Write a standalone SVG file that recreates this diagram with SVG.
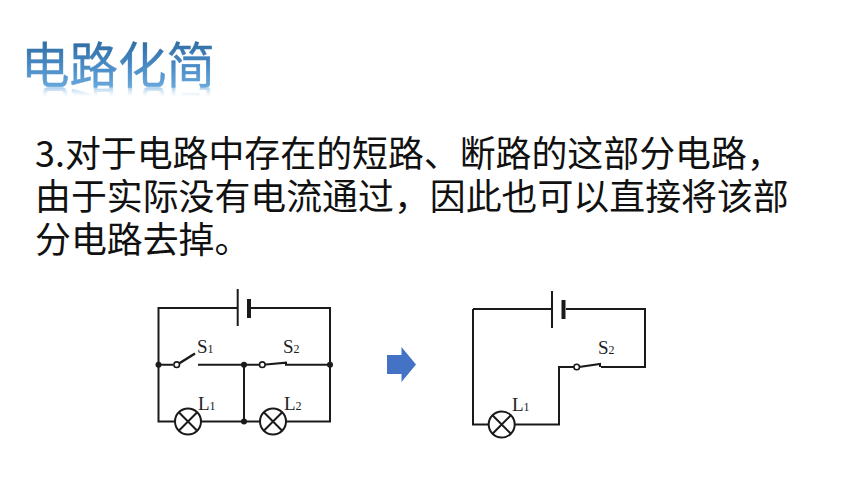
<svg xmlns="http://www.w3.org/2000/svg" width="860" height="484" viewBox="0 0 860 484">
<defs>
<linearGradient id="tg" gradientUnits="userSpaceOnUse" x1="0" y1="41" x2="0" y2="88"><stop offset="0" stop-color="#2f6ca3"/><stop offset="0.55" stop-color="#4a8cc6"/><stop offset="1" stop-color="#6aa9dc"/></linearGradient>
<linearGradient id="rg" gradientUnits="userSpaceOnUse" x1="0" y1="87" x2="0" y2="77"><stop offset="0" stop-color="#8dbde6" stop-opacity="0.8"/><stop offset="1" stop-color="#cfe3f5" stop-opacity="0"/></linearGradient>
</defs>
<style>
.t{font-family:"Noto Sans CJK SC","Noto Sans",sans-serif;font-size:35.9px;fill:#111}
.h{font-family:"Noto Sans CJK SC","Noto Sans",sans-serif;font-size:48.5px;stroke-width:0.4}
.w{fill:none;stroke:#1a1a1a;stroke-width:2}
.b{fill:none;stroke:#1a1a1a;stroke-width:4}
.d{fill:#1a1a1a}
.o{fill:#fff;stroke:#1a1a1a;stroke-width:1.6}
.l{fill:#fff;stroke:#1a1a1a;stroke-width:2}
.s{font-family:"Liberation Serif",serif;font-size:19px;fill:#222}
.u{font-size:12px}
</style>
<rect width="860" height="484" fill="#fff"/>
<g id="title">
<text class="h" x="21" y="83" transform="translate(0,174) scale(1,-1)" fill="url(#rg)">电路化简</text>
<text class="h" x="21" y="83" fill="url(#tg)" stroke="url(#tg)">电路化简</text>
</g>
<g id="body">
<text class="t" x="35" y="167">3.对于电路中存在的短路、断路的这部分电路&#xFF0C;</text>
<text class="t" x="35" y="210">由于实际没有电流通过&#xFF0C;因此也可以直接将该部</text>
<text class="t" x="35" y="253">分电路去掉。</text>
</g>
<g id="connectors">
<path class="w" d="M237.700 308H158.500V421.500H175M201 421.500H260M286 421.500H330V308H250"/>
<path class="w" d="M158.500 364.700H173M198 364.700H259M263 364.700L286 362.700V364.700H330M244 364.700V421.500"/>
<path class="w" d="M179 363.500L195 353.500" style="stroke-width:2.500"/>
<path class="w" d="M473 309H552M566 309H645V367H601M579 367L600 364V367M575 367H559V424.500H515M489 424.500H473V309"/>
</g>
<g id="battery-1"><path class="w" d="M237.700 289V326"/><path class="b" d="M249 299V318"/></g>
<g id="battery-2"><path class="w" d="M552 291V328"/><path class="b" d="M563.500 300V319"/></g>
<g id="junctions"><circle class="d" cx="158.500" cy="364.700" r="3"/><circle class="d" cx="244" cy="364.700" r="3"/><circle class="d" cx="330" cy="364.700" r="3"/><circle class="d" cx="244" cy="421.500" r="3"/></g>
<g id="s1"><circle class="o" cx="176.700" cy="364.700" r="2.800"/><text class="s" x="197" y="353">S<tspan class="u">1</tspan></text></g>
<g id="s2"><circle class="o" cx="262.300" cy="364.700" r="2.800"/><text class="s" x="283" y="353">S<tspan class="u">2</tspan></text></g>
<g id="l1"><circle class="l" cx="188" cy="421.500" r="13"/><path class="w" d="M178.800 412.300L197.200 430.700M197.200 412.300L178.800 430.700"/><text class="s" x="198" y="410">L<tspan class="u">1</tspan></text></g>
<g id="l2"><circle class="l" cx="273" cy="421.500" r="13"/><path class="w" d="M263.800 412.300L282.200 430.700M282.200 412.300L263.800 430.700"/><text class="s" x="284" y="410">L<tspan class="u">2</tspan></text></g>
<g id="s2b"><circle class="o" cx="576.700" cy="367" r="2.800"/><text class="s" x="598" y="354">S<tspan class="u">2</tspan></text></g>
<g id="l1b"><circle class="l" cx="501.700" cy="424.500" r="13"/><path class="w" d="M492.500 415.300L510.900 433.700M510.900 415.300L492.500 433.700"/><text class="s" x="512" y="411">L<tspan class="u">1</tspan></text></g>
<polygon id="arrow" points="387,355 401.500,355 401.500,347 416,364.500 401.500,382 401.500,374 387,374" fill="#4472c4"/>
</svg>
